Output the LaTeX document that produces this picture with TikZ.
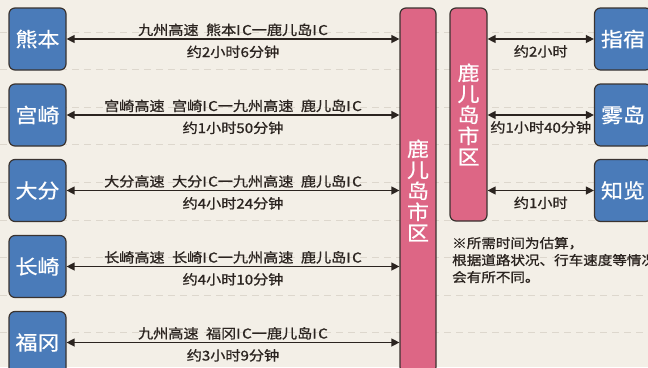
\documentclass[tikz,border=0pt]{standalone}
\usepackage{fontspec}
\newfontfamily\cjk{Noto Sans CJK SC}[FakeStretch=1.12,FakeBold=1]
\newfontfamily\cjkbox{Noto Sans CJK SC}[FakeStretch=1.1,FakeBold=0.6]
\usetikzlibrary{arrows.meta}
\definecolor{bg}{HTML}{F3EFE7}
\definecolor{gridc}{HTML}{DDD7CD}
\definecolor{blu}{HTML}{4A7BB9}
\definecolor{pnk}{HTML}{DD6685}
\definecolor{ink}{HTML}{2B2420}
\definecolor{edgec}{HTML}{3A3330}
\newcommand{\gapsp}{\hspace{0.55em}}
\newcommand{\icx}{I\kern1.5pt C}
\tikzset{
  bluebox/.style={draw=edgec, line width=1.2pt, fill=blu, rounded corners=6pt,
    minimum width=57pt, minimum height=62pt, inner sep=0pt, text=white,
    font=\cjkbox\fontsize{20}{21}\selectfont},
  pinkbox/.style={draw=edgec, line width=1.2pt, fill=pnk, rounded corners=6pt,
    inner sep=0pt, text=white, align=center,
    font=\cjkbox\fontsize{20}{21}\selectfont},
  arr/.style={{Triangle[length=8pt,width=8pt]}-{Triangle[length=8pt,width=8pt]},
    draw=ink, line width=1.3pt},
  lbl/.style={text=ink, font=\cjk\fontsize{13.5}{16}\selectfont, inner sep=0pt, anchor=base},
  gridline/.style={draw=gridc, line width=0.8pt, dash pattern=on 7pt off 5pt},
  notetext/.style={text=ink, font=\cjk\fontsize{13}{17}\selectfont, inner sep=0pt,
    anchor=base west, align=left}
}
\begin{document}
\begin{tikzpicture}[x=1pt,y=-1pt]
\fill[bg] (0,0) rectangle (648,367);
\useasboundingbox (0,0) rectangle (648,367);
\foreach \k in {0,...,8} {
  \draw[gridline] (0,{32+37.6*\k}) -- (648,{32+37.6*\k});
}
% left boxes
\node[bluebox] (kuma) at (37.5,39) {熊本};
\node[bluebox] (miya) at (37.5,115) {宫崎};
\node[bluebox] (oita) at (37.5,190.5) {大分};
\node[bluebox] (naga) at (37.5,266.5) {长崎};
\node[bluebox] (fuku) at (37.5,342.5) {福冈};
% pink boxes
\node[pinkbox, minimum width=36pt, minimum height=365pt] (pinkL) at (418,190.5) {鹿\\儿\\岛\\市\\区};
\node[pinkbox, minimum width=37pt, minimum height=213pt] (pinkR) at (468.5,114.5) {鹿\\儿\\岛\\市\\区};
% right boxes
\node[bluebox] (ibu) at (623,39) {指宿};
\node[bluebox] (kiri) at (623,115) {雾岛};
\node[bluebox] (chir) at (623,190.5) {知览};
% left connectors
\draw[arr] (kuma.east) -- (kuma.east -| pinkL.west)
  node[midway, lbl, yshift=4pt] {九州高速\gapsp 熊本\icx 一鹿儿岛\icx}
  node[midway, lbl, yshift=-18pt] {约2小时6分钟};
\draw[arr] (miya.east) -- (miya.east -| pinkL.west)
  node[midway, lbl, yshift=4pt] {宫崎高速\gapsp 宫崎\icx 一九州高速\gapsp 鹿儿岛\icx}
  node[midway, lbl, yshift=-18pt] {约1小时50分钟};
\draw[arr] (oita.east) -- (oita.east -| pinkL.west)
  node[midway, lbl, yshift=4pt] {大分高速\gapsp 大分\icx 一九州高速\gapsp 鹿儿岛\icx}
  node[midway, lbl, yshift=-18pt] {约4小时24分钟};
\draw[arr] (naga.east) -- (naga.east -| pinkL.west)
  node[midway, lbl, yshift=4pt] {长崎高速\gapsp 长崎\icx 一九州高速\gapsp 鹿儿岛\icx}
  node[midway, lbl, yshift=-18pt] {约4小时10分钟};
\draw[arr] (fuku.east) -- (fuku.east -| pinkL.west)
  node[midway, lbl, yshift=4pt] {九州高速\gapsp 福冈\icx 一鹿儿岛\icx}
  node[midway, lbl, yshift=-18pt] {约3小时9分钟};
% right connectors
\draw[arr] (ibu.west -| pinkR.east) -- (ibu.west)
  node[midway, lbl, yshift=-17.5pt] {约2小时};
\draw[arr] (kiri.west -| pinkR.east) -- (kiri.west)
  node[midway, lbl, yshift=-17.5pt] {约1小时40分钟};
\draw[arr] (chir.west -| pinkR.east) -- (chir.west)
  node[midway, lbl, yshift=-17.5pt] {约1小时};
% note
\node[notetext] (note) at (452,282) {※所需时间为估算，\\根据道路状况、行车速度等情况\\会有所不同。};
\end{tikzpicture}
\end{document}
